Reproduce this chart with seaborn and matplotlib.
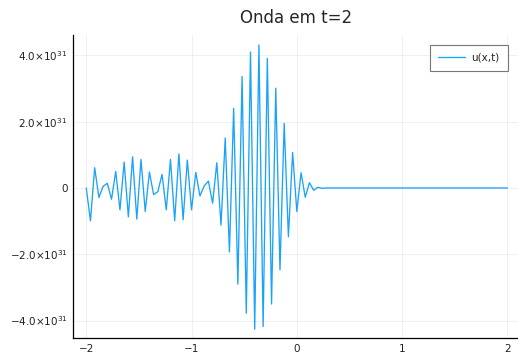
import numpy as np
import pandas as pd
import matplotlib
matplotlib.use("Agg")
import matplotlib.pyplot as plt
from matplotlib.ticker import FixedLocator, FixedFormatter
import seaborn as sns

# Sample grid: 101 points on [-2, 2]
x_vals = np.round(np.linspace(-2.0, 2.0, 101), 2)

# u(x, t=2) in units of 1e31
u_vals = [
    0.00, -0.99, 0.61, -0.29, 0.05, 0.14, -0.34, 0.50, -0.66, 0.78,
    -0.87, 0.94, -0.94, 0.86, -0.71, 0.48, -0.20, -0.11, 0.41, -0.66,
    0.86, -0.99, 1.03, -0.96, 0.84, -0.66, 0.47, -0.24, 0.06, 0.21,
    -0.46, 0.76, -1.12, 1.51, -1.93, 2.40, -2.90, 3.36, -3.78, 4.10,
    -4.26, 4.31, -4.18, 3.91, -3.50, 3.01, -2.47, 1.95, -1.47, 1.07,
    -0.71, 0.46, -0.28, 0.16, -0.07, 0.02, -0.01, 0.00, 0.00, 0.00,
    0.00, 0.00, 0.00, 0.00, 0.00, 0.00, 0.00, 0.00, 0.00, 0.00,
    0.00, 0.00, 0.00, 0.00, 0.00, 0.00, 0.00, 0.00, 0.00, 0.00,
    0.00, 0.00, 0.00, 0.00, 0.00, 0.00, 0.00, 0.00, 0.00, 0.00,
    0.00, 0.00, 0.00, 0.00, 0.00, 0.00, 0.00, 0.00, 0.00, 0.00,
    0.00,
]
scale = 1e31

x_ticks = [-2, -1, 0, 1, 2]
x_ticklabels = ["\u22122", "\u22121", "0", "1", "2"]
y_ticks = [-4.0, -2.0, 0.0, 2.0, 4.0]
y_ticklabels = [r"$-4.0{\times}10^{31}$", r"$-2.0{\times}10^{31}$", "0",
                r"$2.0{\times}10^{31}$", r"$4.0{\times}10^{31}$"]

title = "Onda em t=2"
series_label = "u(x,t)"

df = pd.DataFrame({"x": x_vals, "u": np.array(u_vals) * scale,
                   "serie": series_label})

sns.set_style("white")
plt.rcParams["font.family"] = ["DejaVu Sans"]
plt.rcParams["mathtext.fontset"] = "dejavusans"

fig = plt.figure(figsize=(5.18, 3.61), dpi=100)
ax = fig.add_axes([0.1409, 0.0637, 0.862, 0.839])

sns.lineplot(data=df, x="x", y="u", hue="serie", palette=["#1ba3f7"],
             linewidth=0.95, ax=ax, estimator=None, sort=False)

ax.set_xlim(-2.126, 2.115)
ax.set_ylim(-4.525 * scale, 4.61 * scale)

ax.xaxis.set_major_locator(FixedLocator(x_ticks))
ax.xaxis.set_major_formatter(FixedFormatter(x_ticklabels))
ax.yaxis.set_major_locator(FixedLocator([v * scale for v in y_ticks]))
ax.yaxis.set_major_formatter(FixedFormatter(y_ticklabels))

ax.tick_params(axis="both", direction="in", length=3.5, width=0.8,
               labelsize=7.5, color="black", labelcolor="#222222", pad=4)
ax.grid(True, color="black", alpha=0.07, linewidth=0.6)
ax.set_axisbelow(True)

for side in ("top", "right"):
    ax.spines[side].set_visible(False)
for side in ("left", "bottom"):
    ax.spines[side].set_color("black")
    ax.spines[side].set_linewidth(0.9)

ax.set_xlabel("")
ax.set_ylabel("")
ax.set_title(title, fontsize=12, pad=9)

leg = ax.legend(loc="upper right", fontsize=7.5, frameon=True, fancybox=False,
                handlelength=2.6, borderpad=0.75, bbox_to_anchor=(0.985, 0.985),
                handletextpad=0.6)
leg.get_frame().set_edgecolor("#555555")
leg.get_frame().set_linewidth(0.8)

fig.savefig("out.png", dpi=100)
